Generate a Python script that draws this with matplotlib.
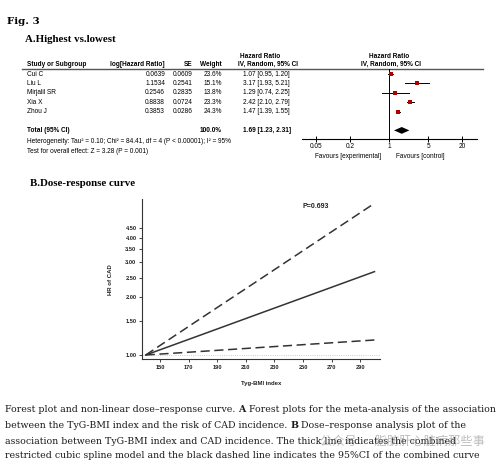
import matplotlib
matplotlib.use("Agg")
import matplotlib.pyplot as plt
from matplotlib.ticker import NullLocator, FixedLocator, FixedFormatter
import numpy as np

# ---------------- data ----------------
studies = ["Cui C", "Liu L", "Mirjalil SR", "Xia X", "Zhou J"]
log_hr = ["0.0639", "1.1534", "0.2546", "0.8838", "0.3853"]
se = ["0.0609", "0.2541", "0.2835", "0.0724", "0.0286"]
weights = [23.6, 15.1, 13.8, 23.3, 24.3]
hr = [1.07, 3.17, 1.29, 2.42, 1.47]
hr_lo = [0.95, 1.93, 0.74, 2.10, 1.39]
hr_hi = [1.20, 5.21, 2.25, 2.79, 1.55]
total_weight = 100.0
total_hr, total_lo, total_hi = 1.69, 1.23, 2.31
forest_ticks = [0.05, 0.2, 1, 5, 20]
forest_tick_labels = ["0.05", "0.2", "1", "5", "20"]

dose_x = [140, 180, 220, 260, 300]
dose_hr = [1.00, 1.28, 1.64, 2.10, 2.69]
dose_upper = [1.00, 1.57, 2.46, 3.86, 6.05]
dose_lower = [1.00, 1.045, 1.093, 1.143, 1.195]
dose_yticks = [1.00, 1.50, 2.00, 2.50, 3.00, 3.50, 4.00, 4.50]
dose_xticks = [150, 170, 190, 210, 230, 250, 270, 290]

W, H = 500, 463
fig = plt.figure(figsize=(5, 4.63), dpi=100)
fig.patch.set_facecolor("white")
bg = fig.add_axes([0, 0, 1, 1])
bg.set_xlim(0, W)
bg.set_ylim(H, 0)
bg.axis("off")

SANS = "Liberation Sans"
fs = 4.7

# titles
bg.text(7, 21, "Fig. 3", family="DejaVu Serif", fontweight="bold", fontsize=7.4, va="center")
bg.text(25, 39, "A.Highest vs.lowest", family="Liberation Serif", fontweight="bold", fontsize=7.8, va="center")
bg.text(30, 183, "B.Dose-response curve", family="Liberation Serif", fontweight="bold", fontsize=7.8, va="center")

# ---------------- forest table ----------------
def rowy(r):
    return 74 + 9.4 * r

hdr_kw = dict(family=SANS, fontweight="bold", fontsize=fs, va="center")
bg.text(260, 56, "Hazard Ratio", ha="center", **hdr_kw)
bg.text(389.5, 56, "Hazard Ratio", ha="center", **hdr_kw)
bg.text(26.7, 64.3, "Study or Subgroup", ha="left", **hdr_kw)
bg.text(165, 64.3, "log[Hazard Ratio]", ha="right", **hdr_kw)
bg.text(192.7, 64.3, "SE", ha="right", **hdr_kw)
bg.text(221.7, 64.3, "Weight", ha="right", **hdr_kw)
bg.text(267.5, 64.3, "IV, Random, 95% CI", ha="center", **hdr_kw)
bg.text(391, 64.3, "IV, Random, 95% CI", ha="center", **hdr_kw)
bg.plot([22, 483], [68.5, 68.5], color="#555555", lw=1.0)

row_kw = dict(family=SANS, fontsize=fs, va="center")
for i, name in enumerate(studies):
    y = rowy(i)
    bg.text(26.7, y, name, ha="left", **row_kw)
    bg.text(165, y, log_hr[i], ha="right", **row_kw)
    bg.text(192.7, y, se[i], ha="right", **row_kw)
    bg.text(221.7, y, f"{weights[i]:.1f}%", ha="right", **row_kw)
    bg.text(243, y, f"{hr[i]:.2f} [{hr_lo[i]:.2f}, {hr_hi[i]:.2f}]", ha="left", **row_kw)

yt = rowy(6)
bg.text(26.7, yt, "Total (95% CI)", ha="left", fontweight="bold", **row_kw)
bg.text(221.7, yt, f"{total_weight:.1f}%", ha="right", fontweight="bold", **row_kw)
bg.text(243, yt, f"{total_hr:.2f} [{total_lo:.2f}, {total_hi:.2f}]", ha="left", fontweight="bold", **row_kw)
bg.text(26.7, 141.5, "Heterogeneity: Tau² = 0.10; Chi² = 84.41, df = 4 (P < 0.00001); I² = 95%", ha="left", **row_kw)
bg.text(26.7, 151.5, "Test for overall effect: Z = 3.28 (P = 0.001)", ha="left", **row_kw)
bg.text(348, 156.7, "Favours [experimental]", ha="center", **row_kw)
bg.text(420, 156.7, "Favours [control]", ha="center", **row_kw)

# forest axes
fx0, fx1, fy_top, fy_bot = 301.7, 476.7, 68.5, 139
fa = fig.add_axes([fx0 / W, 1 - fy_bot / H, (fx1 - fx0) / W, (fy_bot - fy_top) / H])
fa.patch.set_alpha(0)
fa.set_xscale("log")
fa.set_xlim(10 ** ((fx0 - 389) / 56), 10 ** ((fx1 - 389) / 56))
fa.set_ylim((fy_bot - 74) / 9.4, (fy_top - 74) / 9.4)
for s in ["top", "left", "right"]:
    fa.spines[s].set_visible(False)
fa.spines["bottom"].set_linewidth(0.8)
fa.axvline(1, color="black", lw=0.7)
fa.xaxis.set_major_locator(FixedLocator(forest_ticks))
fa.xaxis.set_major_formatter(FixedFormatter(forest_tick_labels))
fa.xaxis.set_minor_locator(NullLocator())
fa.tick_params(axis="x", direction="inout", length=4, width=0.7, labelsize=fs, pad=1)
for lab in fa.get_xticklabels():
    lab.set_family(SANS)
fa.set_yticks([])
for i in range(len(studies)):
    fa.plot([hr_lo[i], hr_hi[i]], [i, i], color="black", lw=0.7)
    fa.plot(hr[i], i, marker="s", color="#b00000", markersize=0.6 * np.sqrt(weights[i]), mew=0)
fa.fill([total_lo, total_hr, total_hi, total_hr], [6, 6 - 0.36, 6, 6 + 0.36], color="black", lw=0)

# ---------------- dose-response ----------------
dx0, dx1, dy_top, dy_bot = 142, 380, 199, 359
da = fig.add_axes([dx0 / W, 1 - dy_bot / H, (dx1 - dx0) / W, (dy_bot - dy_top) / H])
da.patch.set_alpha(0)
da.set_xlim(150 + (dx0 - 160) / 1.43, 150 + (dx1 - 160) / 1.43)
da.set_yscale("log")
da.set_ylim(10 ** (-(dy_bot - 355) / 194), 10 ** ((355 - dy_top) / 194))
for s in ["top", "right"]:
    da.spines[s].set_visible(False)
for s in ["left", "bottom"]:
    da.spines[s].set_linewidth(0.8)
    da.spines[s].set_color("#333333")
da.yaxis.set_major_locator(FixedLocator(dose_yticks))
da.yaxis.set_major_formatter(FixedFormatter([f"{v:.2f}" for v in dose_yticks]))
da.yaxis.set_minor_locator(NullLocator())
da.set_xticks(dose_xticks)
da.tick_params(direction="out", length=2.5, width=0.6, labelsize=4.1, pad=1.5, colors="#222222")
for lab in da.get_xticklabels() + da.get_yticklabels():
    lab.set_family(SANS)
    lab.set_fontweight("bold")
da.axhline(1, color="#bbbbbb", lw=0.6, ls=":")
da.plot(dose_x, dose_upper, color="#333333", lw=1.1, dashes=(6, 3))
da.plot(dose_x, dose_lower, color="#333333", lw=1.1, dashes=(6, 3))
da.plot(dose_x, dose_hr, color="#333333", lw=1.1)
bg.text(316, 207, "P=0.693", family=SANS, fontweight="bold", fontsize=5, ha="center", va="center", color="#222222")
bg.text(110, 280, "HR of CAD", family=SANS, fontweight="bold", fontsize=4.3, rotation=90, ha="center", va="center", color="#222222")
bg.text(261, 384, "Tyg-BMI index", family=SANS, fontweight="bold", fontsize=4.3, ha="center", va="center", color="#222222")

# ---------------- caption ----------------
caption = [
    [("Forest plot and non-linear dose\u2013response curve. ", False), ("A", True),
     (" Forest plots for the meta-analysis of the association", False)],
    [("between the TyG-BMI index and the risk of CAD incidence. ", False), ("B", True),
     (" Dose\u2013response analysis plot of the", False)],
    [("association between TyG-BMI index and CAD incidence. The thick line indicates the combined", False)],
    [("restricted cubic spline model and the black dashed line indicates the 95%CI of the combined curve", False)],
]
cap_y = [409, 425, 441, 456]
renderer = fig.canvas.get_renderer()

def line_width(pieces, size):
    tot = 0
    for s, b in pieces:
        t = fig.text(0, 0, s, family="DejaVu Serif", fontsize=size, fontweight="bold" if b else "normal")
        tot += t.get_window_extent(renderer).width
        t.remove()
    return tot

cap_size = 10 * 492 / line_width(caption[0], 10)
for pieces, y in zip(caption, cap_y):
    x = 5
    for s, b in pieces:
        t = bg.text(x, y, s, family="DejaVu Serif", fontsize=cap_size,
                    fontweight="bold" if b else "normal", va="center", color="#1a1a1a")
        bb = t.get_window_extent(renderer)
        x += bb.width

# watermark overlay present in the reference image
bg.text(320, 441, "公众号 · 脂肪肝心脏病那些事", family=["Noto Sans CJK SC", "DejaVu Sans"],
        fontsize=8.8, color="#888888", alpha=0.55, va="center")

fig.savefig("out.png", dpi=100, facecolor="white")
